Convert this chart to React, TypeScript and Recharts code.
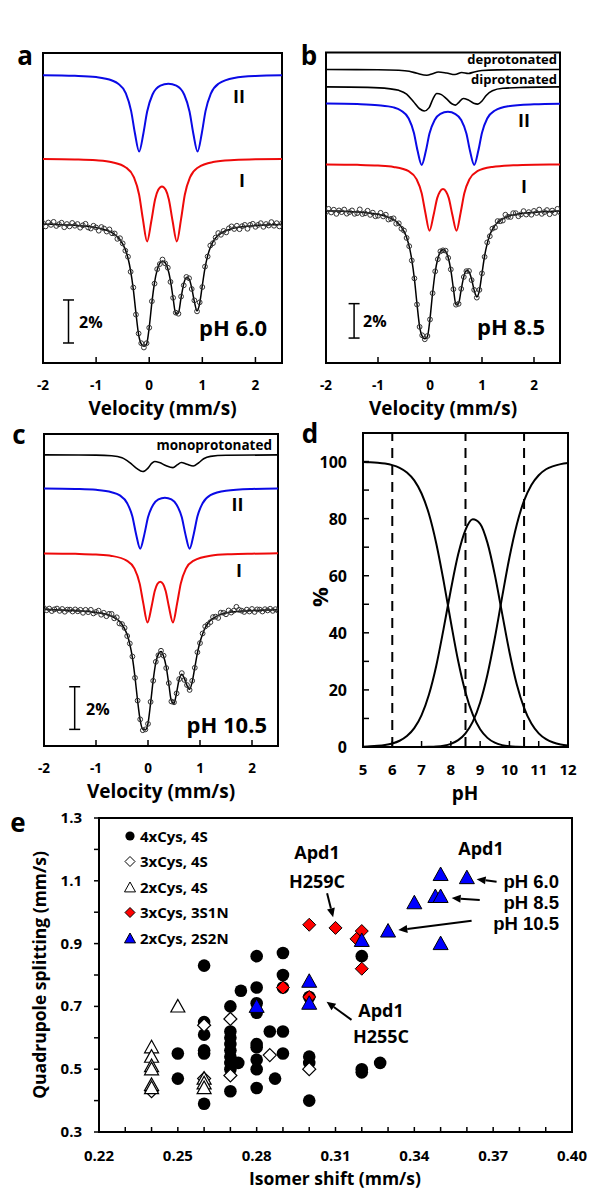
import React from "react"
import {
  ComposedChart,
  Line,
  Scatter,
  XAxis,
  YAxis,
  ReferenceArea,
  ReferenceLine,
} from "recharts"

const FONT = "'Open Sans', 'DejaVu Sans', sans-serif"
const TIGHT_FONT = "'Liberation Sans', Arial, sans-serif"

// velocity channels (mm/s), shared by spectra a, b, c
const velocity = [
  -2, -1.95, -1.9, -1.85, -1.8, -1.75, -1.7, -1.65, -1.6, -1.55, -1.5, -1.45, -1.4, -1.35, -1.3, -1.25, -1.2, -1.15,
  -1.1, -1.05, -1, -0.95, -0.9, -0.85, -0.8, -0.75, -0.7, -0.65, -0.6, -0.55, -0.5, -0.45, -0.4, -0.35, -0.3, -0.25,
  -0.2, -0.15, -0.1, -0.05, 0, 0.05, 0.1, 0.15, 0.2, 0.25, 0.3, 0.35, 0.4, 0.45, 0.5, 0.55, 0.6, 0.65, 0.7, 0.75,
  0.8, 0.85, 0.9, 0.95, 1, 1.05, 1.1, 1.15, 1.2, 1.25, 1.3, 1.35, 1.4, 1.45, 1.5, 1.55, 1.6, 1.65, 1.7, 1.75, 1.8,
  1.85, 1.9, 1.95, 2, 2.05, 2.1, 2.15, 2.2, 2.25, 2.3, 2.35, 2.4, 2.45, 2.5,
]
const velocityTicks = [-2, -1, 0, 1, 2]

// --- pH 6.0 (relative transmission, %) ---
const fitA = [
  -0.06, -0.06, -0.06, -0.06, -0.07, -0.07, -0.08, -0.08, -0.09, -0.09,
  -0.1, -0.1, -0.11, -0.12, -0.13, -0.14, -0.15, -0.16, -0.18, -0.19,
  -0.22, -0.24, -0.27, -0.3, -0.34, -0.39, -0.45, -0.54, -0.64, -0.78,
  -0.97, -1.24, -1.63, -2.23, -3.08, -4.19, -5.19, -5.62, -5.73, -5.63,
  -4.85, -3.7, -2.77, -2.18, -1.87, -1.77, -1.85, -2.13, -2.68, -3.5,
  -4.23, -4.18, -3.47, -2.83, -2.54, -2.61, -3.02, -3.66, -4.09, -3.74,
  -2.9, -2.1, -1.53, -1.14, -0.88, -0.7, -0.57, -0.48, -0.41, -0.35,
  -0.31, -0.27, -0.24, -0.21, -0.19, -0.18, -0.16, -0.15, -0.14, -0.13,
  -0.12, -0.11, -0.11, -0.1, -0.09, -0.09, -0.08, -0.08, -0.08, -0.07, -0.07,
]
const obsA = [
  -0.01, -0.16, 0.02, -0.09, 0.05, -0.14, -0.06, 0.01, -0.2, -0.05,
  -0.16, 0.0, -0.13, -0.05, -0.22, -0.11, -0.04, -0.21, -0.26, -0.13,
  -0.21, -0.36, -0.19, -0.26, -0.4, -0.3, -0.48, -0.49, -0.74, -0.71,
  -0.95, -1.29, -1.57, -2.27, -3.0, -4.26, -5.14, -5.59, -5.79, -5.59,
  -4.87, -3.64, -2.82, -2.15, -1.91, -1.7, -1.88, -2.08, -2.74, -3.48,
  -4.17, -4.22, -3.42, -2.9, -2.51, -2.57, -3.07, -3.6, -4.11, -3.69,
  -2.98, -2.03, -1.56, -1.05, -0.94, -0.68, -0.47, -0.55, -0.37, -0.44,
  -0.25, -0.16, -0.28, -0.13, -0.29, -0.15, -0.09, -0.27, -0.09, -0.04,
  -0.18, -0.09, -0.01, -0.18, -0.05, -0.12, 0.04, -0.13, -0.01, -0.16, -0.01,
]
// component doublets: [velocity, absorption depth %]
const siteIIa = [
  [-2, 0.03], [-1.4, 0.06], [-1, 0.12], [-0.7, 0.28], [-0.59, 0.42], [-0.44, 0.88], [-0.34, 1.7], [-0.27, 2.72],
  [-0.19, 3.58], [-0.11, 2.74], [-0.04, 1.73], [0.06, 0.94], [0.21, 0.52], [0.36, 0.43], [0.51, 0.52], [0.66, 0.94],
  [0.76, 1.73], [0.83, 2.74], [0.91, 3.58], [0.99, 2.73], [1.06, 1.7], [1.16, 0.89], [1.31, 0.42], [1.6, 0.16],
  [2, 0.07], [2.5, 0.04],
]
const siteIa = [
  [-2, 0.03], [-1.4, 0.05], [-1, 0.09], [-0.7, 0.18], [-0.44, 0.42], [-0.29, 0.87], [-0.19, 1.69], [-0.12, 2.81],
  [-0.04, 3.86], [0.04, 2.91], [0.11, 1.91], [0.17, 1.46], [0.24, 1.3], [0.31, 1.46], [0.37, 1.91], [0.44, 2.91],
  [0.52, 3.86], [0.6, 2.81], [0.67, 1.69], [0.77, 0.87], [0.92, 0.42], [1.2, 0.17], [1.6, 0.075], [2, 0.04],
  [2.5, 0.03],
]

// --- pH 8.5 ---
const fitB = [
  -0.07, -0.08, -0.08, -0.08, -0.09, -0.09, -0.1, -0.1, -0.11, -0.12,
  -0.13, -0.13, -0.14, -0.15, -0.17, -0.18, -0.2, -0.21, -0.23, -0.25,
  -0.28, -0.31, -0.35, -0.39, -0.45, -0.51, -0.59, -0.7, -0.84, -1.02,
  -1.27, -1.62, -2.14, -2.92, -4.03, -5.49, -6.8, -7.36, -7.51, -7.38,
  -6.35, -4.85, -3.63, -2.86, -2.45, -2.32, -2.42, -2.79, -3.51, -4.59,
  -5.54, -5.45, -4.65, -3.9, -3.55, -3.62, -4.05, -4.7, -5.08, -4.7,
  -3.7, -2.7, -1.98, -1.48, -1.15, -0.92, -0.75, -0.63, -0.54, -0.46,
  -0.41, -0.35, -0.31, -0.28, -0.25, -0.24, -0.21, -0.2, -0.18, -0.17,
  -0.16, -0.15, -0.14, -0.13, -0.12, -0.12, -0.11, -0.1, -0.1, -0.09, -0.09,
]
const obsB = [
  -0.15, 0.04, -0.17, -0.01, -0.25, -0.05, -0.15, 0.0, -0.24, -0.15,
  -0.05, -0.25, -0.21, 0.01, -0.26, -0.22, -0.07, -0.31, -0.18, -0.39,
  -0.36, -0.19, -0.4, -0.3, -0.58, -0.54, -0.51, -0.82, -0.8, -1.11,
  -1.22, -1.65, -2.13, -2.96, -4.0, -5.52, -6.82, -7.31, -7.54, -7.35,
  -6.39, -4.86, -3.59, -2.89, -2.43, -2.37, -2.39, -2.81, -3.48, -4.63,
  -5.53, -5.48, -4.61, -3.92, -3.58, -3.57, -4.1, -4.67, -5.12, -4.67,
  -3.71, -2.75, -1.91, -1.55, -1.11, -1.04, -0.67, -0.68, -0.64, -0.3,
  -0.42, -0.43, -0.21, -0.21, -0.39, -0.28, -0.09, -0.29, -0.15, -0.3,
  -0.08, -0.2, 0.0, -0.25, -0.15, -0.03, -0.27, -0.06, -0.2, 0.04, -0.16,
]
const siteIIb = [
  [-2, 0.03], [-1.4, 0.06], [-1, 0.12], [-0.7, 0.25], [-0.56, 0.43], [-0.41, 0.9], [-0.31, 1.72], [-0.24, 2.76],
  [-0.16, 3.6], [-0.08, 2.79], [-0.01, 1.77], [0.09, 0.98], [0.2, 0.63], [0.345, 0.51], [0.49, 0.64], [0.6, 0.98],
  [0.7, 1.77], [0.77, 2.79], [0.85, 3.6], [0.93, 2.76], [1.0, 1.72], [1.1, 0.9], [1.25, 0.43], [1.5, 0.18],
  [2, 0.07], [2.5, 0.035],
]
const siteIb = [
  [-2, 0.03], [-1.4, 0.05], [-1, 0.09], [-0.7, 0.17], [-0.41, 0.42], [-0.26, 0.88], [-0.16, 1.7], [-0.09, 2.82],
  [-0.01, 3.88], [0.07, 2.95], [0.14, 1.97], [0.19, 1.61], [0.25, 1.46], [0.31, 1.61], [0.36, 1.97], [0.43, 2.95],
  [0.51, 3.88], [0.59, 2.82], [0.66, 1.7], [0.76, 0.88], [0.91, 0.42], [1.2, 0.17], [1.6, 0.075], [2, 0.04],
  [2.5, 0.03],
]
const diprotonatedB = [
  [-2, 0], [-1.2, 0.03], [-0.8, 0.1], [-0.6, 0.2], [-0.45, 0.42], [-0.32, 0.85], [-0.2, 1.27], [-0.11, 1.4],
  [-0.02, 1.22], [0.06, 0.68], [0.13, 0.38], [0.22, 0.45], [0.32, 0.7], [0.42, 0.98], [0.49, 1.06], [0.56, 0.88],
  [0.64, 0.67], [0.73, 0.75], [0.84, 0.95], [0.92, 1.0], [1.0, 0.82], [1.08, 0.5], [1.2, 0.22], [1.4, 0.08],
  [1.8, 0.03], [2.5, 0],
]
const deprotonatedB = [
  [-2, 0], [-1, 0.01], [-0.6, 0.04], [-0.4, 0.1], [-0.25, 0.22], [-0.06, 0.33], [0.05, 0.24], [0.16, 0.14],
  [0.32, 0.2], [0.48, 0.29], [0.61, 0.17], [0.74, 0.23], [0.85, 0.14], [1.0, 0.06], [1.3, 0.02], [2.5, 0],
]

// --- pH 10.5 ---
const fitC = [
  -0.06, -0.06, -0.06, -0.07, -0.07, -0.07, -0.08, -0.08, -0.09, -0.09,
  -0.1, -0.1, -0.11, -0.12, -0.12, -0.13, -0.14, -0.15, -0.16, -0.18,
  -0.19, -0.21, -0.23, -0.25, -0.28, -0.32, -0.37, -0.43, -0.5, -0.61,
  -0.76, -0.96, -1.24, -1.68, -2.31, -3.23, -4.34, -5.26, -5.68, -5.7,
  -5.4, -4.45, -3.37, -2.55, -2.15, -2.02, -2.25, -2.75, -3.55, -4.35,
  -4.47, -3.95, -3.33, -3.09, -3.3, -3.62, -3.8, -3.45, -2.78, -2.1,
  -1.58, -1.2, -0.91, -0.71, -0.57, -0.47, -0.4, -0.33, -0.28, -0.25,
  -0.22, -0.19, -0.17, -0.16, -0.15, -0.14, -0.13, -0.12, -0.12, -0.11,
  -0.11, -0.1, -0.1, -0.09, -0.09, -0.08, -0.08, -0.08, -0.07, -0.07, -0.07,
]
const obsC = [
  0.01, -0.09, -0.01, -0.13, -0.05, -0.01, -0.12, -0.03, -0.16, -0.06,
  -0.06, -0.15, -0.05, -0.14, -0.07, -0.21, -0.07, -0.18, -0.07, -0.24,
  -0.17, -0.11, -0.3, -0.21, -0.37, -0.26, -0.26, -0.47, -0.42, -0.71,
  -0.74, -0.92, -1.3, -1.65, -2.26, -3.26, -4.33, -5.21, -5.72, -5.68,
  -5.42, -4.39, -3.4, -2.51, -2.2, -1.99, -2.22, -2.8, -3.51, -4.37,
  -4.41, -3.99, -3.32, -3.04, -3.36, -3.6, -3.83, -3.4, -2.79, -2.06,
  -1.63, -1.18, -0.85, -0.76, -0.65, -0.41, -0.39, -0.45, -0.2, -0.21,
  -0.28, -0.1, -0.2, -0.11, 0.07, -0.07, -0.11, -0.17, -0.06, -0.15,
  -0.03, -0.17, -0.05, -0.06, -0.15, -0.04, -0.1, -0.02, -0.12, -0.04, -0.11,
]
const siteIIc = [
  [-2, 0.023], [-1.4, 0.047], [-1, 0.09], [-0.7, 0.2], [-0.55, 0.34], [-0.4, 0.72], [-0.3, 1.34], [-0.23, 2.16],
  [-0.15, 2.85], [-0.07, 2.18], [0, 1.38], [0.1, 0.79], [0.2, 0.54], [0.325, 0.46], [0.45, 0.54], [0.55, 0.79],
  [0.65, 1.38], [0.72, 2.18], [0.8, 2.85], [0.88, 2.16], [0.95, 1.34], [1.05, 0.72], [1.2, 0.34], [1.5, 0.13],
  [2, 0.05], [2.5, 0.028],
]
const siteIc = [
  [-2, 0.022], [-1.4, 0.041], [-1, 0.075], [-0.7, 0.14], [-0.41, 0.36], [-0.26, 0.74], [-0.16, 1.44], [-0.09, 2.37],
  [-0.01, 3.26], [0.07, 2.5], [0.13, 1.79], [0.18, 1.46], [0.235, 1.35], [0.29, 1.46], [0.34, 1.79], [0.4, 2.5],
  [0.48, 3.26], [0.56, 2.37], [0.63, 1.44], [0.73, 0.74], [0.88, 0.36], [1.2, 0.13], [1.6, 0.06], [2, 0.035],
  [2.5, 0.021],
]
const monoprotonatedC = [
  [-2, 0], [-1, 0.01], [-0.7, 0.04], [-0.5, 0.13], [-0.35, 0.36], [-0.22, 0.63], [-0.1, 0.78], [0, 0.62],
  [0.07, 0.4], [0.13, 0.31], [0.22, 0.36], [0.34, 0.5], [0.48, 0.6], [0.56, 0.47], [0.64, 0.36], [0.75, 0.44],
  [0.87, 0.52], [0.97, 0.38], [1.07, 0.18], [1.2, 0.07], [1.5, 0.02], [2.5, 0],
]

// --- d: speciation (%) vs pH ---
const phGrid = [5, 5.25, 5.5, 5.75, 6, 6.25, 6.5, 6.75, 7, 7.25, 7.5, 7.75, 8, 8.25, 8.5, 8.75, 9, 9.25, 9.5, 9.75, 10, 10.25, 10.5, 10.75, 11, 11.25, 11.5, 11.75, 12]
const diprot = [99.87, 99.78, 99.6, 99.3, 98.76, 97.8, 96.17, 93.4, 88.8, 81.7, 71.4, 58.3, 43.8, 30.1, 19.1, 11.3, 6.2, 3.2, 1.5, 0.66, 0.26, 0.1, 0.03, 0.01, 0, 0, 0, 0, 0]
const monoprot = [0.13, 0.22, 0.4, 0.7, 1.24, 2.19, 3.83, 6.6, 11.2, 18.3, 28.4, 41.3, 55.1, 67.5, 76.1, 79.8, 78.2, 71.5, 60.4, 46.8, 33.3, 22.0, 13.7, 8.2, 4.77, 2.74, 1.56, 0.89, 0.5]
const deprot = [0, 0, 0, 0, 0, 0, 0, 0, 0.02, 0.07, 0.18, 0.46, 1.1, 2.4, 4.8, 8.9, 15.6, 25.4, 38.1, 52.5, 66.4, 77.9, 86.3, 91.8, 95.2, 97.3, 98.4, 99.1, 99.5]
const measuredPH = [6.0, 8.5, 10.5]
const pHTicks = [5, 6, 7, 8, 9, 10, 11, 12]
const pctTicks = [0, 10, 20, 30, 40, 50, 60, 70, 80, 90, 100]

// --- e: isomer shift vs quadrupole splitting (mm/s) ---
const cys4S4 = [
  [0.26, 0.83], [0.28, 0.86], [0.29, 0.87], [0.29, 0.8], [0.28, 0.76], [0.29, 0.76], [0.274, 0.75], [0.27, 0.7],
  [0.28, 0.71], [0.28, 0.68], [0.26, 0.65], [0.26, 0.61], [0.26, 0.56], [0.26, 0.55], [0.25, 0.55], [0.25, 0.47],
  [0.26, 0.39], [0.27, 0.62], [0.27, 0.6], [0.27, 0.58], [0.27, 0.56], [0.27, 0.54], [0.27, 0.52], [0.27, 0.5],
  [0.273, 0.52], [0.27, 0.43], [0.285, 0.62], [0.29, 0.62], [0.28, 0.58], [0.28, 0.57], [0.28, 0.53], [0.28, 0.5],
  [0.28, 0.44], [0.287, 0.47], [0.29, 0.55], [0.3, 0.54], [0.3, 0.52], [0.3, 0.4], [0.3, 0.73], [0.32, 0.86],
  [0.32, 0.5], [0.32, 0.49], [0.327, 0.52],
]
const cys3S4 = [[0.26, 0.64], [0.27, 0.66], [0.27, 0.48], [0.285, 0.545], [0.3, 0.5], [0.26, 0.47], [0.24, 0.43]]
const cys2S4 = [[0.25, 0.7], [0.24, 0.57], [0.24, 0.54], [0.24, 0.51], [0.24, 0.5], [0.24, 0.45], [0.24, 0.44], [0.26, 0.47], [0.26, 0.455], [0.26, 0.44]]
const cys3S3N1 = [[0.3, 0.96], [0.31, 0.95], [0.32, 0.94], [0.318, 0.915], [0.32, 0.82], [0.29, 0.76], [0.3, 0.73]]
const cys2S2N2 = [[0.35, 1.12], [0.36, 1.11], [0.348, 1.05], [0.35, 1.05], [0.34, 1.03], [0.33, 0.94], [0.32, 0.91], [0.35, 0.9], [0.3, 0.78], [0.3, 0.71], [0.28, 0.7]]
const isomerTicks = [0.22, 0.23, 0.24, 0.25, 0.26, 0.27, 0.28, 0.29, 0.3, 0.31, 0.32, 0.33, 0.34, 0.35, 0.36, 0.37, 0.38, 0.39, 0.4]
const isomerLabels = ["0.22", "0.25", "0.28", "0.31", "0.34", "0.37", "0.40"]
const splitTicks = [0.3, 0.4, 0.5, 0.6, 0.7, 0.8, 0.9, 1.0, 1.1, 1.2, 1.3]
const splitLabels = ["0.3", "0.5", "0.7", "0.9", "1.1", "1.3"]
const apd1States = ["pH 6.0", "pH 8.5", "pH 10.5"]
// annotation arrows, data coordinates [from, to]
const arrowsE = [
  [[0.3068, 1.06], [0.3091, 0.984]],
  [[0.3713, 1.097], [0.3637, 1.105]],
  [[0.3649, 1.039], [0.3542, 1.045]],
  [[0.3618, 0.973], [0.3339, 0.943]],
  [[0.3161, 0.657], [0.3066, 0.715]],
]

const spectrumRows = (fit: number[], obs: number[]) => velocity.map((v, i) => ({ v, fit: fit[i], obs: obs[i] }))
const curveRows = (pts: number[][], offset: number) => pts.map(([v, d]) => ({ v, y: offset - d }))
const xyRows = (pts: number[][]) => pts.map(([x, y]) => ({ x, y }))

const BLUE = "#0a0ae6"
const RED = "#ee0a0a"

const VelTick = (p: any) => (
  <g>
    <line x1={p.x} x2={p.x} y1={p.y} y2={p.y - 6} stroke="#000" strokeWidth={1.5} />
    <text x={p.x} y={p.y + 27} textAnchor="middle" fontFamily={FONT} fontWeight={700} fontSize={13.5} fill="#000">
      {p.payload.value}
    </text>
  </g>
)

const PHTick = (p: any) => (
  <g>
    <line x1={p.x} x2={p.x} y1={p.y} y2={p.y - 6} stroke="#000" strokeWidth={1.5} />
    <text x={p.x} y={p.y + 28} textAnchor="middle" fontFamily={FONT} fontWeight={700} fontSize={15} fill="#000">
      {p.payload.value}
    </text>
  </g>
)

const PctTick = (p: any) => (
  <g>
    <line x1={p.x} x2={p.x + 6} y1={p.y} y2={p.y} stroke="#000" strokeWidth={1.5} />
    {p.payload.value % 20 === 0 && (
      <text x={p.x - 16} y={p.y + 6} textAnchor="end" fontFamily={FONT} fontWeight={700} fontSize={16} fill="#000">
        {p.payload.value}
      </text>
    )}
  </g>
)

const IsoTick = (p: any) => {
  const s = Number(p.payload.value).toFixed(2)
  return (
    <g>
      <line x1={p.x} x2={p.x} y1={p.y} y2={p.y - 5} stroke="#000" strokeWidth={1.5} />
      {isomerLabels.includes(s) && (
        <text x={p.x} y={p.y + 29} textAnchor="middle" fontFamily={FONT} fontWeight={700} fontSize={15} fill="#000">
          {s}
        </text>
      )}
    </g>
  )
}

const SplitTick = (p: any) => {
  const s = Number(p.payload.value).toFixed(1)
  return (
    <g>
      <line x1={p.x - 5} x2={p.x} y1={p.y} y2={p.y} stroke="#000" strokeWidth={1.5} />
      {splitLabels.includes(s) && (
        <text x={p.x - 17} y={p.y + 5} textAnchor="end" fontFamily={FONT} fontWeight={700} fontSize={15} fill="#000">
          {s}
        </text>
      )}
    </g>
  )
}

const OpenCircle = (p: any) => <circle cx={p.cx} cy={p.cy} r={2.4} fill="none" stroke="#333" strokeWidth={1} />

const ScaleBar = (p: any) => (
  <g stroke="#000" strokeWidth={1.5}>
    <line x1={p.x1} y1={p.y1} x2={p.x2} y2={p.y2} />
    <line x1={p.x1 - 5.5} y1={p.y1} x2={p.x1 + 5.5} y2={p.y1} />
    <line x1={p.x2 - 5.5} y1={p.y2} x2={p.x2 + 5.5} y2={p.y2} />
  </g>
)

const Arrow = (p: any) => {
  const a = Math.atan2(p.y2 - p.y1, p.x2 - p.x1)
  const bx = p.x2 - 9 * Math.cos(a)
  const by = p.y2 - 9 * Math.sin(a)
  const nx = -Math.sin(a) * 4
  const ny = Math.cos(a) * 4
  return (
    <g>
      <line x1={p.x1} y1={p.y1} x2={bx} y2={by} stroke="#000" strokeWidth={2} />
      <polygon points={`${p.x2},${p.y2} ${bx + nx},${by + ny} ${bx - nx},${by - ny}`} fill="#000" />
    </g>
  )
}

const Dot = (p: any) => <circle cx={p.cx} cy={p.cy} r={6.3} fill="#000" />
const DiamondShape = (fill: string, h: number, sw: number) => (p: any) => (
  <polygon
    points={`${p.cx},${p.cy - h} ${p.cx + h},${p.cy} ${p.cx},${p.cy + h} ${p.cx - h},${p.cy}`}
    fill={fill}
    stroke="#000"
    strokeWidth={sw}
  />
)
const TriangleShape = (fill: string, w: number, sw: number) => (p: any) => (
  <polygon
    points={`${p.cx},${p.cy - w} ${p.cx - w},${p.cy + w * 0.8} ${p.cx + w},${p.cy + w * 0.8}`}
    fill={fill}
    stroke="#000"
    strokeWidth={sw}
  />
)

type Curve = { rows: { v: number; y: number }[]; color: string }

type PanelProps = {
  left: number
  top: number
  width: number
  height: number
  margin: { top: number; right: number; bottom: number; left: number }
  yDomain: [number, number]
  curves: Curve[]
  rows: { v: number; fit: number; obs: number }[]
  bar: { x: number; y: number }[]
}

function SpectrumPanel({ left, top, width, height, margin, yDomain, curves, rows, bar }: PanelProps) {
  return (
    <div style={{ position: "absolute", left, top }}>
      <ComposedChart width={width} height={height} margin={margin}>
        <XAxis
          type="number"
          dataKey="v"
          domain={[-2, 2.5]}
          ticks={velocityTicks}
          interval={0}
          allowDataOverflow
          tickSize={0}
          tickMargin={0}
          axisLine={false}
          height={53}
          tick={<VelTick />}
        />
        <YAxis type="number" hide width={0} domain={yDomain} allowDataOverflow />
        {curves.map((c, i) => (
          <Line
            key={i}
            data={c.rows}
            dataKey="y"
            type="monotone"
            stroke={c.color}
            strokeWidth={c.color === "#000" ? 1.6 : 2}
            dot={false}
            isAnimationActive={false}
          />
        ))}
        <Scatter data={rows} dataKey="obs" shape={OpenCircle} isAnimationActive={false} />
        <Line data={rows} dataKey="fit" type="monotone" stroke="#000" strokeWidth={1.5} dot={false} isAnimationActive={false} />
        <ReferenceLine segment={bar} shape={ScaleBar} />
        <ReferenceArea x1={-2} x2={2.5} y1={yDomain[0]} y2={yDomain[1]} fill="none" stroke="#000" strokeWidth={2} />
      </ComposedChart>
    </div>
  )
}

function SpeciationPanel() {
  const rows = phGrid.map((pH, i) => ({ pH, di: diprot[i], mono: monoprot[i], dep: deprot[i] }))
  return (
    <div style={{ position: "absolute", left: 295, top: 420 }}>
      <ComposedChart width={295} height={385} data={rows} margin={{ top: 13, right: 22, bottom: 5, left: 0 }}>
        <XAxis
          type="number"
          dataKey="pH"
          domain={[5, 12]}
          ticks={pHTicks}
          interval={0}
          tickSize={0}
          tickMargin={0}
          axisLine={false}
          height={53}
          tick={<PHTick />}
        />
        <YAxis
          type="number"
          domain={[0, 110]}
          ticks={pctTicks}
          interval={0}
          width={68}
          tickSize={0}
          tickMargin={0}
          axisLine={false}
          tick={<PctTick />}
        />
        {measuredPH.map((x) => (
          <ReferenceLine key={x} x={x} stroke="#000" strokeWidth={2} strokeDasharray="10 7" />
        ))}
        <Line dataKey="di" type="monotone" stroke="#000" strokeWidth={2} dot={false} isAnimationActive={false} />
        <Line dataKey="mono" type="monotone" stroke="#000" strokeWidth={2} dot={false} isAnimationActive={false} />
        <Line dataKey="dep" type="monotone" stroke="#000" strokeWidth={2} dot={false} isAnimationActive={false} />
        <ReferenceArea x1={5} x2={12} y1={0} y2={110} fill="none" stroke="#000" strokeWidth={2} />
      </ComposedChart>
    </div>
  )
}

function ScatterPanel() {
  return (
    <div style={{ position: "absolute", left: 0, top: 800 }}>
      <ComposedChart width={590} height={390} margin={{ top: 18, right: 18, bottom: 3, left: 39 }}>
        <XAxis
          type="number"
          dataKey="x"
          domain={[0.22, 0.4]}
          ticks={isomerTicks}
          interval={0}
          allowDataOverflow
          tickSize={0}
          tickMargin={0}
          axisLine={false}
          height={55}
          tick={<IsoTick />}
        />
        <YAxis
          type="number"
          dataKey="y"
          domain={[0.3, 1.3]}
          ticks={splitTicks}
          interval={0}
          allowDataOverflow
          width={60}
          tickSize={0}
          tickMargin={0}
          axisLine={false}
          tick={<SplitTick />}
        />
        <Scatter data={xyRows(cys4S4)} shape={Dot} isAnimationActive={false} />
        <Scatter data={xyRows(cys3S4)} shape={DiamondShape("#fff", 6.5, 1.2)} isAnimationActive={false} />
        <Scatter data={xyRows(cys2S4)} shape={TriangleShape("#fff", 7, 1.2)} isAnimationActive={false} />
        <Scatter data={xyRows(cys3S3N1)} shape={DiamondShape("#ff0000", 6.5, 1)} isAnimationActive={false} />
        <Scatter data={xyRows(cys2S2N2)} shape={TriangleShape("#0000ff", 7.5, 1)} isAnimationActive={false} />
        {arrowsE.map((seg, i) => (
          <ReferenceLine key={i} segment={[{ x: seg[0][0], y: seg[0][1] }, { x: seg[1][0], y: seg[1][1] }]} shape={Arrow} />
        ))}
        <ReferenceArea x1={0.22} x2={0.4} y1={0.3} y2={1.3} fill="none" stroke="#000" strokeWidth={2} />
      </ComposedChart>
    </div>
  )
}

const T = ({ x, y, s, a = "middle", children, rot, f = FONT }: any) => (
  <text
    x={x}
    y={y}
    fontSize={s}
    fontWeight={700}
    fontFamily={f}
    textAnchor={a}
    fill="#000"
    transform={rot ? `rotate(-90 ${x} ${y})` : undefined}
  >
    {children}
  </text>
)

const legendE = [
  { label: "4xCys, 4S", kind: "dot" },
  { label: "3xCys, 4S", kind: "diamond" },
  { label: "2xCys, 4S", kind: "triangle" },
  { label: "3xCys, 3S1N", kind: "redDiamond" },
  { label: "2xCys, 2S2N", kind: "blueTriangle" },
]

function LegendMarker({ kind, cx, cy }: { kind: string; cx: number; cy: number }) {
  if (kind === "dot") return <circle cx={cx} cy={cy} r={4.6} fill="#000" />
  if (kind === "diamond" || kind === "redDiamond")
    return DiamondShape(kind === "diamond" ? "#fff" : "#ff0000", 5, 1)({ cx, cy })
  return TriangleShape(kind === "triangle" ? "#fff" : "#0000ff", 5.5, 1)({ cx, cy: cy + 0.5 })
}

function Overlay() {
  return (
    <svg width={590} height={1190} style={{ position: "absolute", left: 0, top: 0, pointerEvents: "none" }}>
      <T x={25} y={65} s={26}>a</T>
      <T x={309} y={65} s={26}>b</T>
      <T x={19} y={444} s={26}>c</T>
      <T x={310} y={443} s={26}>d</T>
      <T x={18} y={832} s={26}>e</T>

      <T x={239} y={103} s={18}>II</T>
      <T x={242} y={187} s={18}>I</T>
      <T x={79} y={328} s={16} a="start">2%</T>
      <T x={267} y={336} s={22} a="end">pH 6.0</T>
      <T x={162.5} y={414.5} s={19}>Velocity (mm/s)</T>

      <T x={557} y={64} s={13} a="end">deprotonated</T>
      <T x={557} y={84} s={13} a="end">diprotonated</T>
      <T x={524} y={127} s={18}>II</T>
      <T x={524} y={193} s={18}>I</T>
      <T x={363} y={327} s={16} a="start">2%</T>
      <T x={545} y={335} s={22} a="end">pH 8.5</T>
      <T x={443} y={414.5} s={19}>Velocity (mm/s)</T>

      <T x={272} y={450} s={13.5} a="end">monoprotonated</T>
      <T x={237.5} y={511} s={18}>II</T>
      <T x={239} y={577} s={18}>I</T>
      <T x={86} y={715} s={16} a="start">2%</T>
      <T x={267} y={733} s={22} a="end">pH 10.5</T>
      <T x={161} y={797.5} s={19}>Velocity (mm/s)</T>

      <T x={465} y={800} s={19}>pH</T>
      <T x={328} y={597} s={22} rot>%</T>

      <T x={335} y={1184.5} s={17.5}>Isomer shift (mm/s)</T>
      <T x={46} y={975} s={17.5} rot>Quadrupole splitting (mm/s)</T>
      <T x={317} y={859} s={18}>Apd1</T>
      <T x={317} y={888} s={18}>H259C</T>
      <T x={481} y={855} s={18}>Apd1</T>
      {apd1States.map((s, i) => (
        <T key={s} x={559} y={888 + i * 21} s={18.5} a="end" f={TIGHT_FONT}>
          {s}
        </T>
      ))}
      <T x={381} y={1017} s={18}>Apd1</T>
      <T x={381} y={1043} s={18}>H255C</T>

      {legendE.map((item, i) => {
        const cy = 836 + i * 25.5
        return (
          <g key={item.label}>
            <LegendMarker kind={item.kind} cx={130} cy={cy} />
            <T x={140} y={cy + 5.5} s={15} a="start">{item.label}</T>
          </g>
        )
      })}
    </svg>
  )
}

export default function App() {
  return (
    <div style={{ position: "absolute", left: 0, top: 0, width: 590, height: 1190, background: "#fff" }}>
      <SpectrumPanel
        left={0}
        top={30}
        width={300}
        height={400}
        margin={{ top: 23, right: 18, bottom: 14, left: 43 }}
        yDomain={[-6.51, 7.9]}
        curves={[
          { rows: curveRows(siteIIa, 6.9), color: BLUE },
          { rows: curveRows(siteIa, 3.0), color: RED },
        ]}
        rows={spectrumRows(fitA, obsA)}
        bar={[{ x: -1.52, y: -3.58 }, { x: -1.52, y: -5.58 }]}
      />
      <SpectrumPanel
        left={300}
        top={30}
        width={290}
        height={400}
        margin={{ top: 22.5, right: 30, bottom: 14, left: 26 }}
        yDomain={[-8.92, 9.13]}
        curves={[
          { rows: curveRows(deprotonatedB, 8.14), color: "#000" },
          { rows: curveRows(diprotonatedB, 7.13), color: "#000" },
          { rows: curveRows(siteIIb, 6.19), color: BLUE },
          { rows: curveRows(siteIb, 2.65), color: RED },
        ]}
        rows={spectrumRows(fitB, obsB)}
        bar={[{ x: -1.46, y: -5.47 }, { x: -1.46, y: -7.47 }]}
      />
      <SpectrumPanel
        left={0}
        top={420}
        width={300}
        height={385}
        margin={{ top: 14, right: 22, bottom: 6, left: 44 }}
        yDomain={[-6.46, 8.18]}
        curves={[
          { rows: curveRows(monoprotonatedC, 7.2), color: "#000" },
          { rows: curveRows(siteIIc, 5.65), color: BLUE },
          { rows: curveRows(siteIc, 2.6), color: RED },
        ]}
        rows={spectrumRows(fitC, obsC)}
        bar={[{ x: -1.41, y: -3.68 }, { x: -1.41, y: -5.68 }]}
      />
      <SpeciationPanel />
      <ScatterPanel />
      <Overlay />
    </div>
  )
}
